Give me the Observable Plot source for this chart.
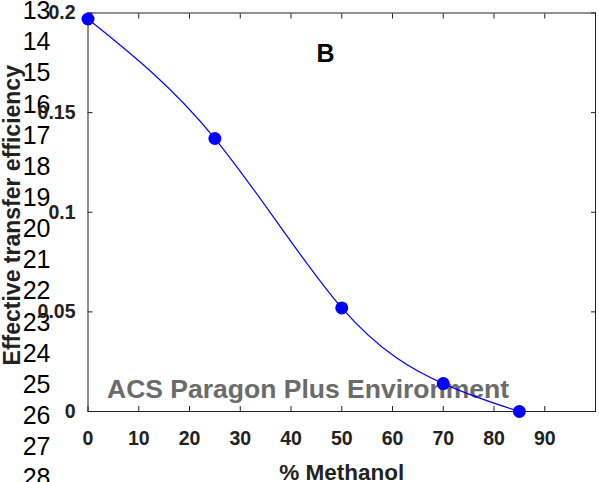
<!DOCTYPE html>
<html>
<head>
<meta charset="utf-8">
<script src="https://cdn.jsdelivr.net/npm/d3@7"></script>
<script src="https://cdn.jsdelivr.net/npm/@observablehq/plot@0.6"></script>
<style>
  html, body { margin: 0; padding: 0; background: #fff; }
  #chart { width: 599px; height: 482px; overflow: hidden; }
</style>
</head>
<body>
<div id="chart"></div>
<script>
// ---- data ----
const methanol = [0, 25, 50, 70, 85];
const efficiency = [0.197, 0.137, 0.052, 0.014, 0.0];
const xTicks = [0, 10, 20, 30, 40, 50, 60, 70, 80, 90];
const xTickLabels = ["0", "10", "20", "30", "40", "50", "60", "70", "80", "90"];
const yTicks = [0, 0.05, 0.1, 0.15, 0.2];
const yTickLabels = ["0", "0.05", "0.1", "0.15", "0.2"];
const lineNumbers = [13, 14, 15, 16, 17, 18, 19, 20, 21, 22, 23, 24, 25, 26, 27, 28];
const panelLabel = [{text: "B", x: 46.8, y: 0.1795}];
const xTitle = "% Methanol";
const yTitle = "Effective transfer efficiency";
const watermark = "ACS Paragon Plus Environment";

const data = methanol.map((m, i) => ({m, e: efficiency[i]}));
const font = "'Liberation Sans', Arial, Helvetica, sans-serif";
const blue = "#0000ff";

const chart = Plot.plot({
  width: 599,
  height: 482,
  marginLeft: 87.5,
  marginRight: 4,
  marginTop: 12.5,
  marginBottom: 71,
  style: {fontFamily: font, background: "#fff", overflow: "visible"},
  x: {domain: [0, 100]},
  y: {domain: [0, 0.2]},
  marks: [
    // manuscript line numbers
    Plot.text([lineNumbers.join("\n")], {
      frameAnchor: "top-left", textAnchor: "end", lineAnchor: "top",
      dx: -37.5, dy: -16, fontSize: 25, lineHeight: 1.246, fill: "#000"
    }),
    // watermark
    Plot.text([watermark], {
      frameAnchor: "bottom-left", textAnchor: "start", lineAnchor: "bottom",
      dx: 19, dy: -14, fontSize: 26.5, fontWeight: "bold", fill: "#6b6b6b"
    }),
    Plot.frame({stroke: "#222", strokeWidth: 1}),
    // axes: inward ticks
    Plot.axisX({anchor: "bottom", ticks: xTicks, tickSize: -5, tickFormat: () => "", label: null, stroke: "#222"}),
    Plot.axisX({anchor: "top", ticks: xTicks, tickSize: -5, tickFormat: () => "", label: null, stroke: "#222"}),
    Plot.axisY({anchor: "left", ticks: yTicks, tickSize: -5, tickFormat: () => "", label: null, stroke: "#222"}),
    Plot.axisY({anchor: "right", ticks: yTicks, tickSize: -5, tickFormat: () => "", label: null, stroke: "#222"}),
    // tick labels
    Plot.axisX({anchor: "bottom", ticks: xTicks, tickSize: 0, tickPadding: 20,
      tickFormat: (d) => xTickLabels[xTicks.indexOf(d)], label: null,
      fontSize: 19.5, fontWeight: "bold", fill: "#222"}),
    Plot.axisY({anchor: "left", ticks: yTicks, tickSize: 0, tickPadding: 12.5,
      tickFormat: (d) => yTickLabels[yTicks.indexOf(d)], label: null,
      fontSize: 19.5, fontWeight: "bold", fill: "#222"}),
    // axis titles
    Plot.text([xTitle], {
      frameAnchor: "bottom", lineAnchor: "bottom", dy: 68,
      fontSize: 22.5, fontWeight: "bold", fill: "#222"
    }),
    Plot.text([yTitle], {
      frameAnchor: "left", textAnchor: "middle", lineAnchor: "middle", rotate: -90, dx: -75.5, dy: 3,
      fontSize: 23, fontWeight: "bold", fill: "#222"
    }),
    // panel label
    Plot.text(panelLabel, {x: "x", y: "y", text: "text", fontSize: 25, fontWeight: "bold", fill: "#000"}),
    // data
    Plot.line(data, {x: "m", y: "e", curve: "natural", stroke: blue, strokeWidth: 1.2}),
    Plot.dot(data, {x: "m", y: "e", r: 6.5, fill: blue, stroke: "none"})
  ]
});
document.getElementById("chart").appendChild(chart);
</script>
</body>
</html>
